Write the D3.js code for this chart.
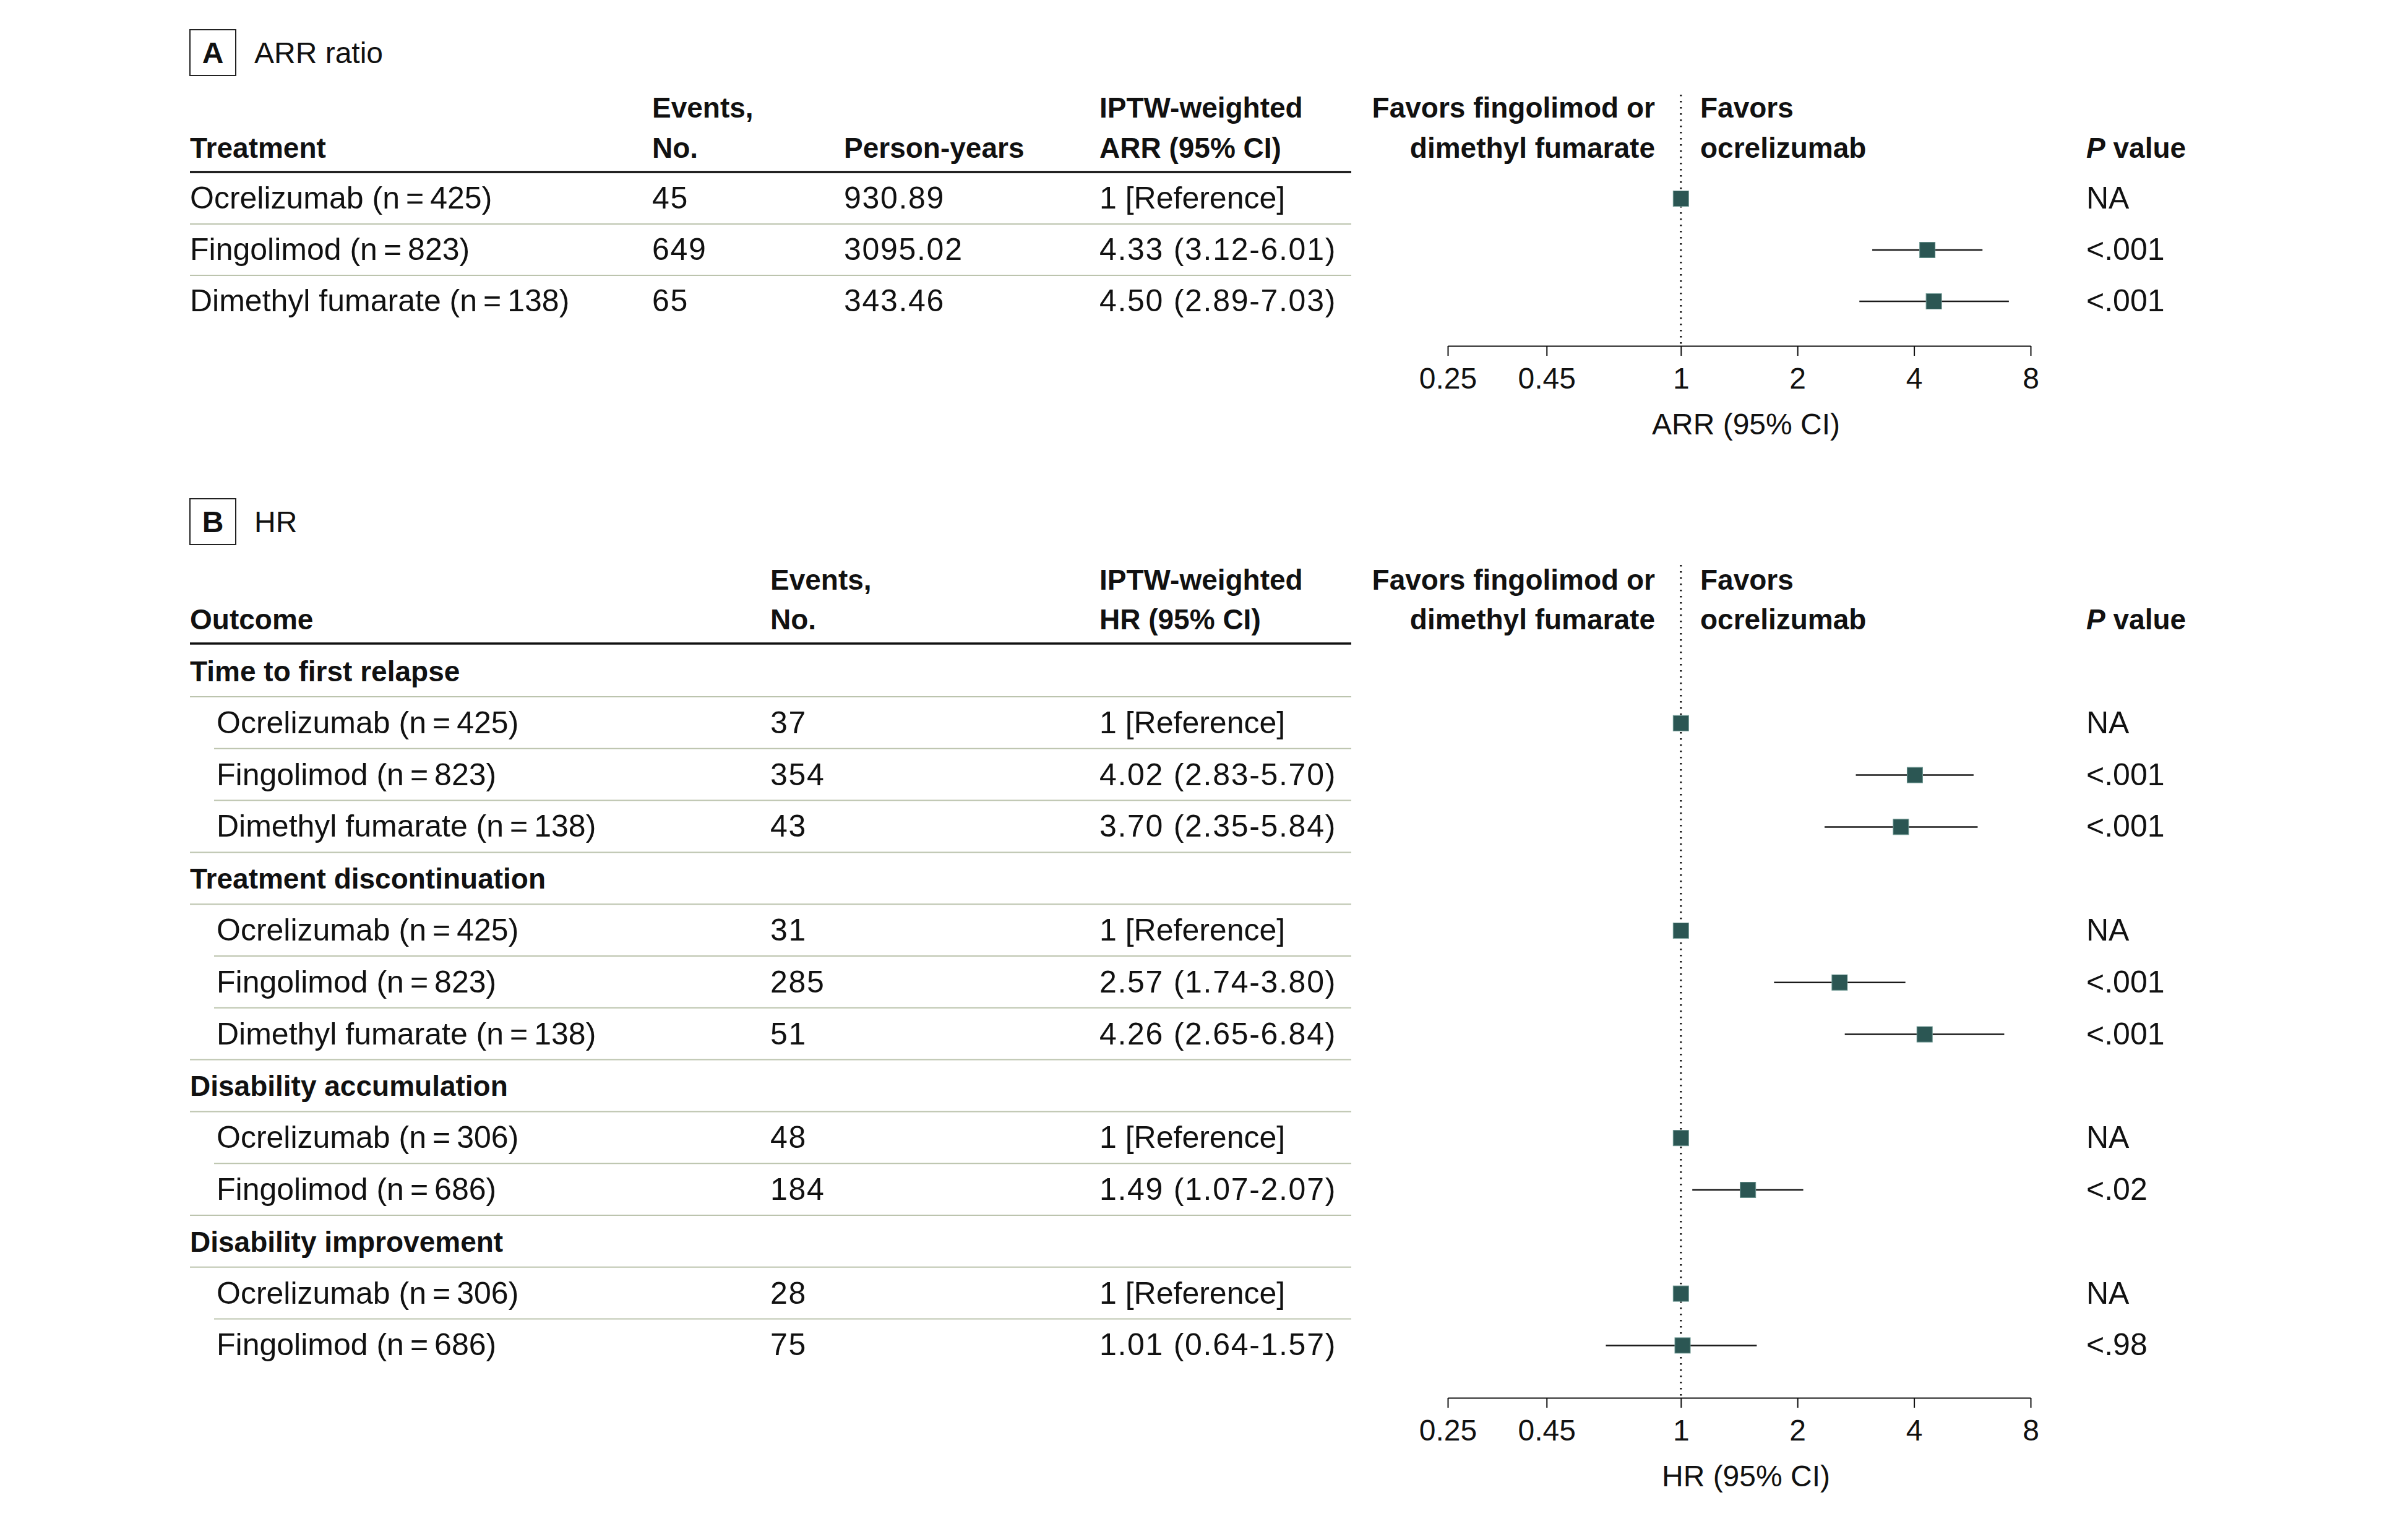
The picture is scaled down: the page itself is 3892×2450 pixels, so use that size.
<!DOCTYPE html>
<html>
<head>
<meta charset="utf-8">
<script src="https://cdn.jsdelivr.net/npm/d3@7"></script>
<style>
  body { margin: 0; background: #fff; }
  text { font-family: "Liberation Sans", Arial, sans-serif; fill: #111; }
  .hd { font-weight: bold; }
  .num { letter-spacing: 1.7px; }
</style>
</head>
<body>
<div id="chart"></div>
<script>
// panel A: ARR ratio
const arrTreatments = ["Ocrelizumab (n\u2009=\u2009425)", "Fingolimod (n\u2009=\u2009823)", "Dimethyl fumarate (n\u2009=\u2009138)"];
const arrEvents = [45, 649, 65];
const arrPersonYears = ["930.89", "3095.02", "343.46"];
const arrEstimate = [1, 4.33, 4.50];
const arrLower = [null, 3.12, 2.89];
const arrUpper = [null, 6.01, 7.03];
const arrP = ["NA", "<.001", "<.001"];

// panel B: HR
const hrOutcomes = ["Time to first relapse", "Treatment discontinuation", "Disability accumulation", "Disability improvement"];
const hrGroup = [0, 0, 0, 1, 1, 1, 2, 2, 3, 3];
const hrLabels = ["Ocrelizumab (n\u2009=\u2009425)", "Fingolimod (n\u2009=\u2009823)", "Dimethyl fumarate (n\u2009=\u2009138)",
                  "Ocrelizumab (n\u2009=\u2009425)", "Fingolimod (n\u2009=\u2009823)", "Dimethyl fumarate (n\u2009=\u2009138)",
                  "Ocrelizumab (n\u2009=\u2009306)", "Fingolimod (n\u2009=\u2009686)",
                  "Ocrelizumab (n\u2009=\u2009306)", "Fingolimod (n\u2009=\u2009686)"];
const hrEvents = [37, 354, 43, 31, 285, 51, 48, 184, 28, 75];
const hrEstimate = [1, 4.02, 3.70, 1, 2.57, 4.26, 1, 1.49, 1, 1.01];
const hrLower = [null, 2.83, 2.35, null, 1.74, 2.65, null, 1.07, null, 0.64];
const hrUpper = [null, 5.70, 5.84, null, 3.80, 6.84, null, 2.07, null, 1.57];
const hrP = ["NA", "<.001", "<.001", "NA", "<.001", "<.001", "NA", "<.02", "NA", "<.98"];

const tickValues = [0.25, 0.45, 1, 2, 4, 8];
const tickLabels = ["0.25", "0.45", "1", "2", "4", "8"];

const W = 3892, H = 2450;
const FS = 50, FSB = 46, FSAX = 48;
const left = 307, tableRight = 2184, indent = 346;
const sepColor = "#bcc4ae", markColor = "#2b5653";

const svg = d3.select("#chart").append("svg").attr("width", W).attr("height", H);
svg.append("rect").attr("width", W).attr("height", H).attr("fill", "#fff");

const x = d3.scaleLog().domain([0.25, 8]).range([2340, 3282]);
const f2 = d3.format(".2f");
const ciText = (e, lo, hi) => lo == null ? "1 [Reference]" : `${f2(e)} (${f2(lo)}-${f2(hi)})`;

const txt = (g, s, tx, ty, cls, anchor, fs) => g.append("text").attr("x", tx).attr("y", ty)
    .attr("font-size", fs || (cls === "hd" ? FSB : FS)).attr("class", cls || null)
    .attr("text-anchor", anchor || "start").text(s);

function panelHeader(g, letter, title, top) {
  g.append("rect").attr("x", left).attr("y", top).attr("width", 74).attr("height", 74)
    .attr("fill", "none").attr("stroke", "#222").attr("stroke-width", 2);
  txt(g, letter, left + 37, top + 54, "hd", "middle", FSAX);
  txt(g, title, 411, top + 54, null, null, FSAX);
}

function forestHead(g, y1, y2) {
  txt(g, "Favors fingolimod or", 2675, y1, "hd", "end");
  txt(g, "dimethyl fumarate", 2675, y2, "hd", "end");
  txt(g, "Favors", 2748, y1, "hd");
  txt(g, "ocrelizumab", 2748, y2, "hd");
  const p = txt(g, "", 3372, y2, "hd");
  p.append("tspan").attr("font-style", "italic").text("P");
  p.append("tspan").text(" value");
}

function forest(g, rows, y, dotTop, axisY, axisTitle) {
  g.append("line").attr("x1", x(1)).attr("x2", x(1)).attr("y1", dotTop).attr("y2", axisY - 3)
    .attr("stroke", "#111").attr("stroke-width", 3).attr("stroke-dasharray", "2.5,7.5");
  const r = g.selectAll(".est").data(rows).enter().append("g").attr("class", "est");
  r.filter(d => d.lo != null).append("line")
    .attr("x1", d => x(d.lo)).attr("x2", d => x(d.hi))
    .attr("y1", d => y(d.i) - 16).attr("y2", d => y(d.i) - 16)
    .attr("stroke", "#1a1a1a").attr("stroke-width", 2.5);
  r.append("rect").attr("x", d => x(d.e) - 12.5).attr("y", d => y(d.i) - 28.5)
    .attr("width", 25).attr("height", 25).attr("fill", markColor)
    .attr("stroke", "#6f9893").attr("stroke-width", 1);
  r.append("text").attr("x", 3372).attr("y", d => y(d.i)).attr("font-size", FS).text(d => d.p);

  const ax = g.append("g").attr("transform", `translate(0,${axisY})`)
    .call(d3.axisBottom(x).tickValues(tickValues).tickFormat((d, i) => tickLabels[i])
      .tickSize(16).tickSizeOuter(0));
  ax.select(".domain").attr("stroke", "#111").attr("stroke-width", 2);
  ax.selectAll(".tick line").attr("stroke", "#111").attr("stroke-width", 2);
  ax.selectAll(".tick text").attr("font-size", FSAX).attr("dy", null).attr("y", 69)
    .attr("font-family", "Liberation Sans, Arial, sans-serif").attr("fill", "#111");
  txt(g, axisTitle, (x.range()[0] + x.range()[1]) / 2 + 11, axisY + 143, null, "middle", FSAX);
}

// ---- Panel A ----
const gA = svg.append("g");
panelHeader(gA, "A", "ARR ratio", 48);
const hA1 = 190, hA2 = 255;
txt(gA, "Treatment", left, hA2, "hd");
txt(gA, "Events,", 1054, hA1, "hd"); txt(gA, "No.", 1054, hA2, "hd");
txt(gA, "Person-years", 1364, hA2, "hd");
txt(gA, "IPTW-weighted", 1777, hA1, "hd"); txt(gA, "ARR (95% CI)", 1777, hA2, "hd");
forestHead(gA, hA1, hA2);
gA.append("line").attr("x1", left).attr("x2", tableRight).attr("y1", 278).attr("y2", 278)
  .attr("stroke", "#111").attr("stroke-width", 3.5);

const yA = d3.scaleLinear().domain([0, 1]).range([337, 420]);
arrTreatments.forEach((t, i) => {
  txt(gA, t, left, yA(i));
  txt(gA, arrEvents[i], 1054, yA(i), "num");
  txt(gA, arrPersonYears[i], 1364, yA(i), "num");
  txt(gA, ciText(arrEstimate[i], arrLower[i], arrUpper[i]), 1777, yA(i), arrLower[i] == null ? null : "num");
  if (i < arrTreatments.length - 1)
    gA.append("line").attr("x1", left).attr("x2", tableRight).attr("y1", yA(i) + 25).attr("y2", yA(i) + 25)
      .attr("stroke", sepColor).attr("stroke-width", 2);
});
forest(gA, arrTreatments.map((t, i) => ({i, e: arrEstimate[i], lo: arrLower[i], hi: arrUpper[i], p: arrP[i]})),
  yA, 153, 559, "ARR (95% CI)");

// ---- Panel B ----
const gB = svg.append("g");
panelHeader(gB, "B", "HR", 806);
const hB1 = 953, hB2 = 1017;
txt(gB, "Outcome", left, hB2, "hd");
txt(gB, "Events,", 1245, hB1, "hd"); txt(gB, "No.", 1245, hB2, "hd");
txt(gB, "IPTW-weighted", 1777, hB1, "hd"); txt(gB, "HR (95% CI)", 1777, hB2, "hd");
forestHead(gB, hB1, hB2);
gB.append("line").attr("x1", left).attr("x2", tableRight).attr("y1", 1040).attr("y2", 1040)
  .attr("stroke", "#111").attr("stroke-width", 3.5);

// flatten: group header rows followed by their treatment rows
const bRows = [];
hrOutcomes.forEach((o, gi) => {
  bRows.push({head: true, label: o});
  hrGroup.forEach((g, k) => { if (g === gi) bRows.push({head: false, k}); });
});
const yB = d3.scaleLinear().domain([0, 1]).range([1101, 1184.8]);
bRows.forEach((r, j) => {
  if (r.head) txt(gB, r.label, left, yB(j), "hd");
  else {
    const k = r.k;
    txt(gB, hrLabels[k], indent + 4, yB(j));
    txt(gB, hrEvents[k], 1245, yB(j), "num");
    txt(gB, ciText(hrEstimate[k], hrLower[k], hrUpper[k]), 1777, yB(j), hrLower[k] == null ? null : "num");
  }
  if (j < bRows.length - 1) {
    const full = r.head || bRows[j + 1].head;
    gB.append("line").attr("x1", full ? left : indent).attr("x2", tableRight)
      .attr("y1", yB(j) + 25).attr("y2", yB(j) + 25).attr("stroke", sepColor).attr("stroke-width", 2);
  }
});
forest(gB, bRows.map((r, j) => r.head ? null : ({i: j, e: hrEstimate[r.k], lo: hrLower[r.k], hi: hrUpper[r.k], p: hrP[r.k]}))
  .filter(d => d), yB, 913, 2259, "HR (95% CI)");
</script>
</body>
</html>
